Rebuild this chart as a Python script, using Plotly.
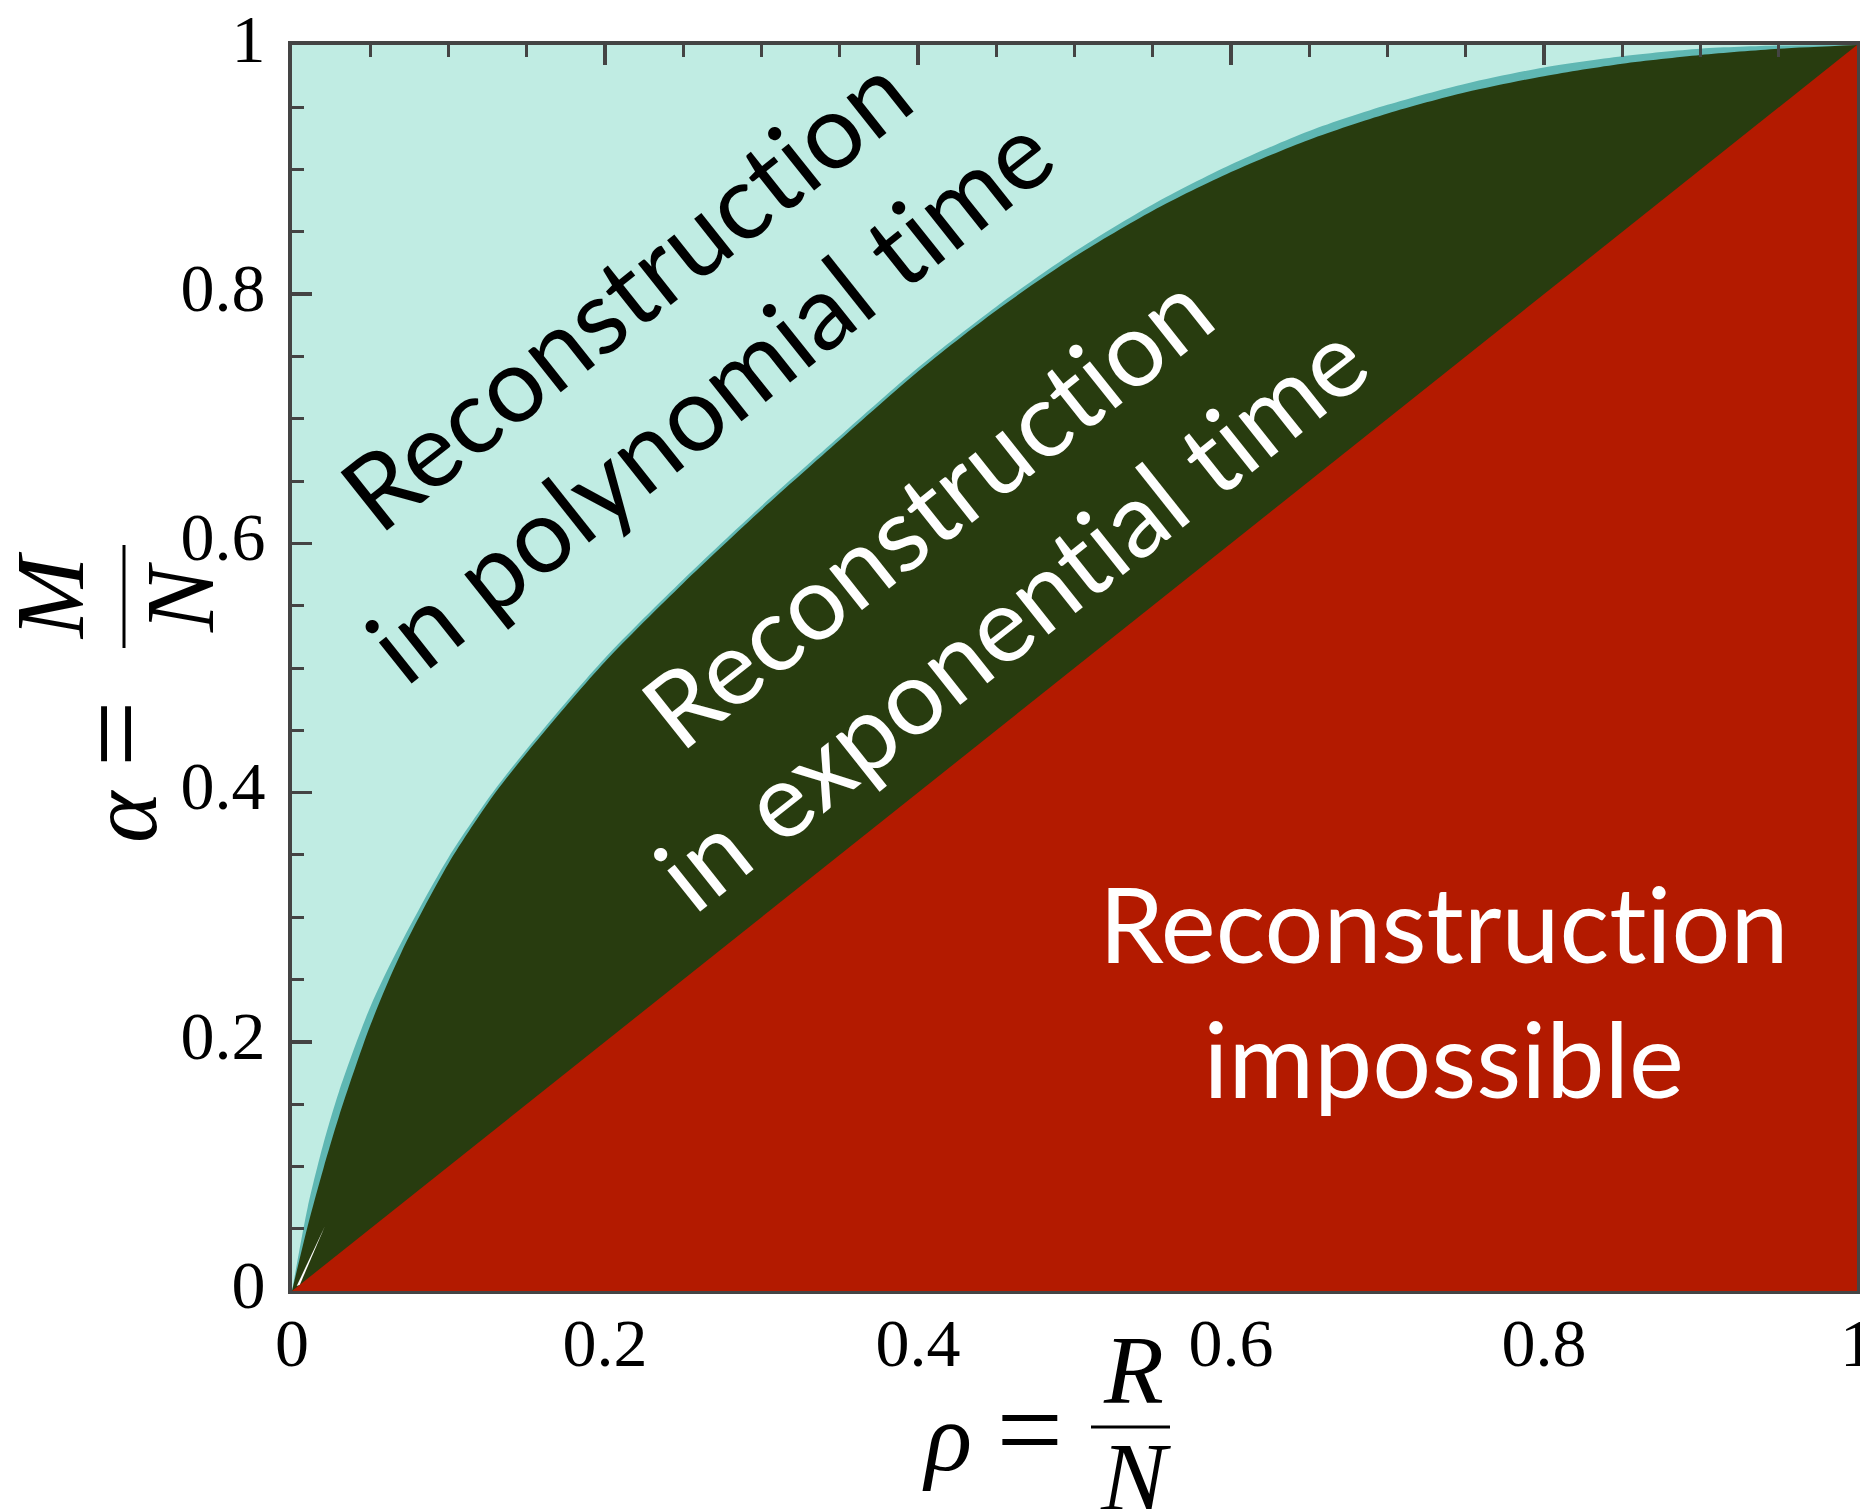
import plotly.graph_objects as go

# ---- data ----
rho = [0, 0.01, 0.02, 0.03, 0.05, 0.07, 0.10, 0.13, 0.16, 0.20, 0.25, 0.30, 0.35,
       0.40, 0.45, 0.50, 0.55, 0.60, 0.65, 0.70, 0.75, 0.80, 0.85, 0.90, 0.95, 1.0]
# lower boundary of the polynomial-time region (dark green / teal border)
alpha_green = [0, 0.052, 0.098, 0.140, 0.213, 0.272, 0.343, 0.400, 0.447, 0.505, 0.568, 0.627, 0.683,
               0.738, 0.787, 0.830, 0.867, 0.898, 0.924, 0.945, 0.962, 0.975, 0.985, 0.992, 0.997, 1.0]
# upper edge of the thin teal band
alpha_teal = [0, 0.067, 0.118, 0.160, 0.228, 0.280, 0.348, 0.403, 0.450, 0.508, 0.571, 0.630, 0.686,
              0.741, 0.790, 0.834, 0.872, 0.904, 0.931, 0.952, 0.969, 0.982, 0.991, 0.997, 0.9995, 1.0]
# information-theoretic limit alpha = rho
rho_diag = [0, 1]
alpha_diag = [0, 1]
full_x = [0, 1]
full_y = [1, 1]
# thin white sliver visible near the origin
sliver_x = [0.003, 0.021, 0.005]
sliver_y = [0.004, 0.052, 0.005]

tick_vals = [0, 0.2, 0.4, 0.6, 0.8, 1]
tick_text = ["0", "0.2", "0.4", "0.6", "0.8", "1"]

LIGHT = "#c0ece3"
TEAL = "#5fb7b3"
GREEN = "#283c0f"
RED = "#b31a00"
AXIS = "#444444"

W, H = 1860, 1509
L, T = 292, 45
R = W - 1857
B = H - 1291
PW, PH = W - L - R, H - T - B


def px(xp, yp):
    """page pixel -> paper coordinates"""
    return (xp - L) / PW, (H - B - yp) / PH


fig = go.Figure()
fig.add_trace(go.Scatter(x=full_x, y=full_y, fill="tozeroy", fillcolor=LIGHT,
                         mode="lines", line=dict(width=0), hoverinfo="skip"))
fig.add_trace(go.Scatter(x=rho, y=alpha_teal, fill="tozeroy", fillcolor=TEAL,
                         mode="lines", line=dict(width=0, shape="spline", smoothing=0.8),
                         hoverinfo="skip"))
fig.add_trace(go.Scatter(x=rho, y=alpha_green, fill="tozeroy", fillcolor=GREEN,
                         mode="lines", line=dict(width=0, shape="spline", smoothing=0.8),
                         hoverinfo="skip"))
fig.add_trace(go.Scatter(x=rho_diag, y=alpha_diag, fill="tozeroy", fillcolor=RED,
                         mode="lines", line=dict(width=0), hoverinfo="skip"))
fig.add_trace(go.Scatter(x=sliver_x, y=sliver_y, fill="toself", fillcolor="white",
                         mode="lines", line=dict(width=0), hoverinfo="skip"))
# invisible trace to activate the top tick axis
fig.add_trace(go.Scatter(x=full_x, y=full_y, xaxis="x2", mode="lines",
                         line=dict(width=0), hoverinfo="skip", opacity=0))

tfont = dict(family="Liberation Serif", size=68, color="black")
fig.update_layout(
    xaxis=dict(range=[0, 1], showgrid=False, zeroline=False, automargin=False,
               showline=True, linecolor=AXIS, linewidth=3, mirror=True,
               ticks="", tickvals=tick_vals, ticktext=tick_text, tickfont=tfont,
               ticklabeloverflow="allow", ticklabelstandoff=-10),
    xaxis2=dict(range=[0, 1], overlaying="x", side="top", anchor="y", showgrid=False,
                zeroline=False, automargin=False, showline=True, linecolor=AXIS, linewidth=4,
                ticks="inside", ticklen=20, tickwidth=3.5, tickcolor=AXIS,
                tickvals=tick_vals, showticklabels=False,
                minor=dict(dtick=0.05, ticks="inside", ticklen=12, tickwidth=3, tickcolor=AXIS)),
    yaxis=dict(range=[0, 1], showgrid=False, zeroline=False, automargin=False,
               showline=True, linecolor=AXIS, linewidth=4, mirror=True,
               ticks="inside", ticklen=20, tickwidth=3.5, tickcolor=AXIS,
               tickvals=tick_vals, ticktext=tick_text, tickfont=tfont,
               minor=dict(dtick=0.05, ticks="inside", ticklen=12, tickwidth=3, tickcolor=AXIS),
               ticklabeloverflow="allow", ticklabelstandoff=9, ticklabelshift=-7),
)

ZW = "\u200c"  # zero-width non-joiner: avoids the "ti" ligature
lab_font = "Lato"
ann = []


def add_text(xp, yp, text, size, color, angle=0, family=lab_font):
    a, b = px(xp, yp)
    ann.append(dict(x=a, y=b, xref="paper", yref="paper", text=text, showarrow=False,
                    xanchor="center", yanchor="middle", textangle=angle,
                    font=dict(family=family, size=size, color=color)))


# region labels
add_text(666, 343, f"Reconstruct{ZW}ion<br>in polynomial t{ZW}ime", 104, "black", -38.5)
add_text(967, 561, f"Reconstruct{ZW}ion<br>in exponent{ZW}ial t{ZW}ime", 104, "white", -38.5)
add_text(1443, 990, f"Reconstruct{ZW}ion<br>impossible", 104, "white")

MF = "Liberation Serif"
MS = 98
EQ = '<span style="font-size:118px">=</span>'
# x-axis title  rho = R / N
add_text(992, 1430, f"<i>ρ</i> {EQ}", MS, "black", family=MF)
add_text(1133, 1370, "<i>R</i>", MS, "black", family=MF)
add_text(1135, 1477, "<i>N</i>", MS, "black", family=MF)
# y-axis title  alpha = M / N (rotated)
add_text(116, 772, f"<i>α</i> {EQ}", MS, "black", -90, family=MF)
add_text(50, 596, "<i>M</i>", MS, "black", -90, family=MF)
add_text(180, 598, "<i>N</i>", MS, "black", -90, family=MF)

shapes = []
xa, ya = px(1091, 1427)
xb, yb = px(1170, 1427)
shapes.append(dict(type="line", xref="paper", yref="paper", x0=xa, y0=ya, x1=xb, y1=yb,
                   line=dict(color="black", width=3)))
xa, ya = px(124, 545)
xb, yb = px(124, 648)
shapes.append(dict(type="line", xref="paper", yref="paper", x0=xa, y0=ya, x1=xb, y1=yb,
                   line=dict(color="black", width=3)))

fig.update_layout(
    width=W, height=H,
    margin=dict(l=L, r=R, t=T, b=B, pad=0),
    paper_bgcolor="white", plot_bgcolor=LIGHT,
    showlegend=False, annotations=ann, shapes=shapes,
)

# remove the default 8px page margin so the figure fills the window exactly
fig.write_html("out.html",
               config={"displayModeBar": False, "staticPlot": True},
               post_script="document.body.style.margin='0px';"
                           "document.body.style.overflow='hidden';")
